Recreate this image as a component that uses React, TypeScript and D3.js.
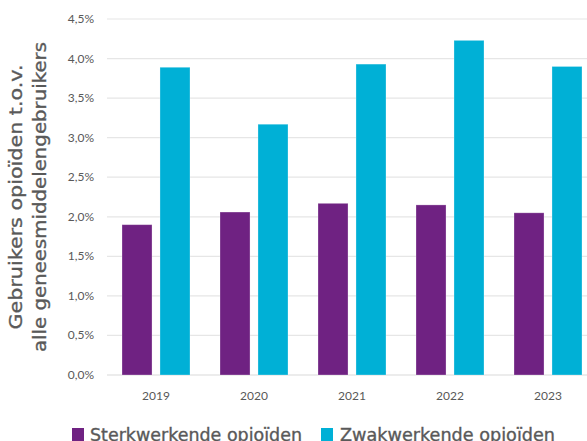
import React from "react";
import * as d3 from "d3";

const years = ["2019", "2020", "2021", "2022", "2023"];
const seriesNames = ["Sterkwerkende opioïden", "Zwakwerkende opioïden"];
const sterk = [1.9, 2.06, 2.17, 2.15, 2.05];
const zwak = [3.89, 3.17, 3.93, 4.23, 3.9];
const yTicks = [0, 0.5, 1, 1.5, 2, 2.5, 3, 3.5, 4, 4.5];
const colors = ["#6F2282", "#00B0D6"];

export default function App() {
  const W = 587, H = 441;
  const x0 = d3.scaleBand<string>().domain(years).range([107, 597]).padding(0);
  const x1 = d3.scaleBand<string>().domain(seriesNames).range([15, 83]).paddingInner(0.21);
  const y = d3.scaleLinear().domain([0, 4.5]).range([375, 19]);
  const fmt = (v: number) => d3.format(".1f")(v).replace(".", ",") + "%";
  const values = [sterk, zwak];
  const gray = "#595959";
  return (
    <svg width={W} height={H} style={{ position: "fixed", left: 0, top: 0 }}>
      <rect x={0} y={0} width={W} height={H} fill="#fff" />
      {yTicks.map((t) => (
        <g key={t}>
          <line x1={107} x2={597} y1={y(t)} y2={y(t)} stroke={t === 0 ? "#d9d9d9" : "#e6e6e6"} strokeWidth={1.2} />
          <text x={94} y={y(t) + 4} textAnchor="end" fontFamily="Lato, 'Open Sans', sans-serif" fontSize={12} fill={gray}>
            {fmt(t)}
          </text>
        </g>
      ))}
      {years.map((yr, i) => (
        <g key={yr} transform={`translate(${x0(yr)},0)`}>
          {seriesNames.map((s, j) => (
            <rect key={s} x={x1(s)} y={y(values[j][i])} width={x1.bandwidth()} height={y(0) - y(values[j][i])} fill={colors[j]} stroke="#ffffff" strokeOpacity={0.35} strokeWidth={0.8} />
          ))}
          <text x={x0.bandwidth() / 2} y={400} textAnchor="middle" fontFamily="Lato, 'Open Sans', sans-serif" fontSize={12} fill={gray}>
            {yr}
          </text>
        </g>
      ))}
      <g fontFamily="'DejaVu Sans', sans-serif" fontWeight={400} fontSize={18} fill={gray} stroke={gray} strokeWidth={0.35}>
        <text transform={`translate(22,${y(2.25)}) rotate(-90)`} textAnchor="middle" textLength={265} lengthAdjust="spacingAndGlyphs">
          Gebruikers opioïden t.o.v.
        </text>
        <text transform={`translate(46,${y(2.25)}) rotate(-90)`} textAnchor="middle" textLength={310} lengthAdjust="spacingAndGlyphs">
          alle geneesmiddelengebruikers
        </text>
      </g>
      <g fontFamily="'DejaVu Sans', sans-serif" fontWeight={400} fontSize={17.5} fill={gray} stroke={gray} strokeWidth={0.35}>
        <rect x={72} y={428} width={12} height={13} fill={colors[0]} stroke="none" />
        <text x={90} y={441} textLength={212} lengthAdjust="spacingAndGlyphs">{seriesNames[0]}</text>
        <rect x={321} y={428} width={12} height={13} fill={colors[1]} stroke="none" />
        <text x={340} y={441} textLength={215} lengthAdjust="spacingAndGlyphs">{seriesNames[1]}</text>
      </g>
    </svg>
  );
}
